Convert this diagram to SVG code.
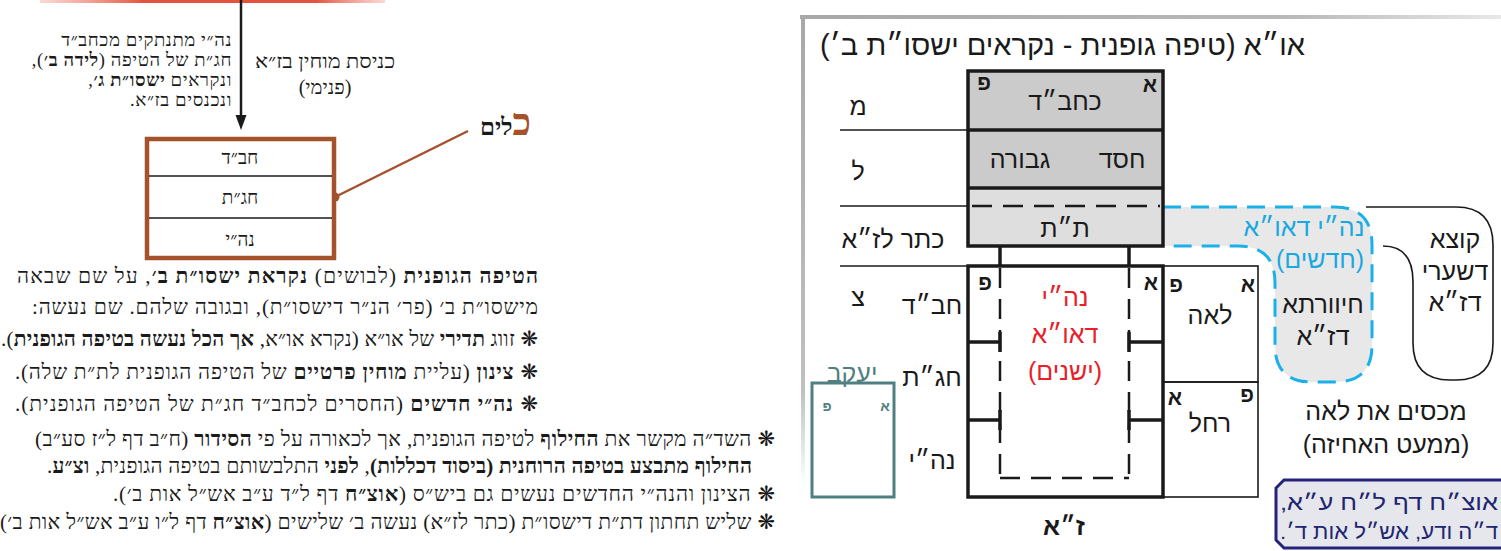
<svg xmlns="http://www.w3.org/2000/svg" width="1501" height="551" viewBox="0 0 1501 551">
<defs>
<style>
text{direction:rtl;fill:#1a1a1a;}
.ser{font-family:"Liberation Serif","DejaVu Serif",serif;}
.san{font-family:"Liberation Sans","DejaVu Sans",sans-serif;}
.b{font-weight:bold;}
.st{font-family:"DejaVu Sans",sans-serif;font-weight:normal;}
.brown{stroke:#a5512b;}
.thin{stroke:#1a1a1a;stroke-width:1.6;fill:none;}
.thick{stroke:#1a1a1a;stroke-width:3.5;fill:none;}
.dash{stroke:#1a1a1a;stroke-width:2.5;stroke-dasharray:20 11;fill:none;}
.mk{font-family:"Liberation Sans","DejaVu Sans",sans-serif;font-weight:bold;font-size:21px;}
.lbl{font-family:"Liberation Sans","DejaVu Sans",sans-serif;font-size:25px;text-anchor:middle;}
.red{fill:#e8202a;}
.cyan{fill:#1aa8e0;}
.teal{fill:#4f7f80;}
.navy{fill:#1e2570;}
.tl{font-family:"Liberation Serif","DejaVu Serif",serif;font-size:18.5px;letter-spacing:0.6px;}
</style>
<linearGradient id="fr" x1="0" y1="0" x2="1" y2="0">
<stop offset="0" stop-color="#a8a8a8"/><stop offset="0.7" stop-color="#b8b8b8"/><stop offset="1" stop-color="#e8e8e8"/>
</linearGradient>
<linearGradient id="frv" x1="0" y1="0" x2="0" y2="1">
<stop offset="0" stop-color="#a8a8a8"/><stop offset="0.8" stop-color="#c0c0c0"/><stop offset="1" stop-color="#ffffff"/>
</linearGradient>
<linearGradient id="redl" x1="0" y1="0" x2="1" y2="0">
<stop offset="0" stop-color="#f08070" stop-opacity="0.3"/><stop offset="0.3" stop-color="#e5533f"/><stop offset="0.8" stop-color="#e5533f"/><stop offset="1" stop-color="#f08070" stop-opacity="0.3"/>
</linearGradient>
</defs>

<!-- LEFT PART -->
<rect x="40" y="0" width="345" height="3" fill="url(#redl)"/>

<g id="connectors">
<line x1="241" y1="0" x2="241" y2="118" stroke="#1a1a1a" stroke-width="2.5"/>
<polygon points="235.5,115 246.5,115 241,130" fill="#1a1a1a"/>
<line x1="335" y1="197" x2="468" y2="131" class="brown" stroke-width="2.5"/>
<circle cx="335" cy="197" r="4.5" fill="#a5512b"/>
</g>

<g id="top-left-text">
<text class="tl" x="232" y="46" text-anchor="start">נה״י מתנתקים מכחב״ד</text>
<text class="tl" x="232" y="66" text-anchor="start">חג״ת של הטיפה (<tspan class="b">לידה ב׳</tspan>),</text>
<text class="tl" x="232" y="86" text-anchor="start">ונקראים <tspan class="b">ישסו״ת ג׳</tspan>,</text>
<text class="tl" x="232" y="106" text-anchor="start">ונכנסים בז״א.</text>
</g>

<g id="entry-label" class="ser" font-size="20">
<text x="325" y="68" text-anchor="middle" textLength="140" lengthAdjust="spacingAndGlyphs">כניסת מוחין בז״א</text>
<text x="325" y="94" text-anchor="middle">(פנימי)</text>
</g>

<g id="kelim-box">
<rect x="147" y="139" width="187" height="119" fill="#fff" stroke="#a5512b" stroke-width="4.5"/>
<line x1="149" y1="176" x2="332" y2="176" stroke="#1a1a1a" stroke-width="1.5"/>
<line x1="149" y1="218" x2="332" y2="218" stroke="#1a1a1a" stroke-width="1.5"/>
<text class="ser" font-size="19" x="240" y="164" text-anchor="middle">חב״ד</text>
<text class="ser" font-size="19" x="240" y="204" text-anchor="middle">חג״ת</text>
<text class="ser" font-size="19" x="240" y="246" text-anchor="middle">נה״י</text>
</g>

<g id="kelim-label">
<text class="ser b" x="531" y="135" text-anchor="start"><tspan font-size="38" fill="#a5512b">כ</tspan><tspan font-size="24">לים</tspan></text>
</g>

<g id="paragraph-1" class="ser" font-size="21">
<text x="538" y="283" text-anchor="start" textLength="521" lengthAdjust="spacing"><tspan class="b">הטיפה הגופנית</tspan> (לבושים) <tspan class="b">נקראת ישסו״ת ב׳</tspan>, על שם שבאה</text>
<text x="538" y="314" text-anchor="start" textLength="506" lengthAdjust="spacing">מישסו״ת ב׳ (פר׳ הנ״ר דישסו״ת), ובגובה שלהם. שם נעשה:</text>
<text x="538" y="346" text-anchor="start" textLength="537" lengthAdjust="spacing"><tspan class="st">❋</tspan> זווג <tspan class="b">תדירי</tspan> של או״א (נקרא או״א, <tspan class="b">אך הכל נעשה בטיפה הגופנית</tspan>).</text>
<text x="538" y="379" text-anchor="start" textLength="523" lengthAdjust="spacing"><tspan class="st">❋</tspan> <tspan class="b">צינון</tspan> (עליית <tspan class="b">מוחין פרטיים</tspan> של הטיפה הגופנית לת״ת שלה).</text>
<text x="538" y="411" text-anchor="start" textLength="523" lengthAdjust="spacing"><tspan class="st">❋</tspan> <tspan class="b">נה״י חדשים</tspan> (החסרים לכחב״ד חג״ת של הטיפה הגופנית).</text>
</g>

<g id="paragraph-2" class="ser" font-size="21">
<text x="775" y="446" text-anchor="start" textLength="740" lengthAdjust="spacing"><tspan class="st">❋</tspan> השד״ה מקשר את <tspan class="b">החילוף</tspan> לטיפה הגופנית, אך לכאורה על פי <tspan class="b">הסידור</tspan> (ח״ב דף ל״ז סע״ב)</text>
<text x="752" y="473" text-anchor="start" textLength="705" lengthAdjust="spacing"><tspan class="b">החילוף מתבצע בטיפה הרוחנית (ביסוד דכללות)</tspan>, <tspan class="b">לפני</tspan> התלבשותם בטיפה הגופנית, <tspan class="b">וצ״ע</tspan>.</text>
<text x="775" y="501" text-anchor="start" textLength="662" lengthAdjust="spacing"><tspan class="st">❋</tspan> הצינון והנה״י החדשים נעשים גם ביש״ס (<tspan class="b">אוצ״ח</tspan> דף ל״ד ע״ב אש״ל אות ב׳).</text>
<text x="775" y="529" text-anchor="start" textLength="775" lengthAdjust="spacing"><tspan class="st">❋</tspan> שליש תחתון דת״ת דישסו״ת (כתר לז״א) נעשה ב׳ שלישים (<tspan class="b">אוצ״ח</tspan> דף ל״ו ע״ב אש״ל אות ב׳)</text>
</g>

<!-- RIGHT PART -->
<g id="frame">
<rect x="800" y="15" width="701" height="4" fill="url(#fr)"/>
<rect x="801" y="15" width="4" height="470" fill="url(#frv)"/>
</g>

<g id="title">
<text class="san" font-size="29" x="1305" y="55" text-anchor="start" textLength="485" lengthAdjust="spacing">או״א (טיפה גופנית - נקראים ישסו״ת ב׳)</text>
</g>

<g id="level-lines">
<line x1="840" y1="130" x2="968" y2="130" class="thin"/>
<line x1="840" y1="206" x2="968" y2="206" class="thin"/>
<line x1="840" y1="266" x2="968" y2="266" class="thin"/>
<text class="lbl" x="858" y="115">מ</text>
<text class="lbl" x="858" y="180">ל</text>
<text class="lbl" x="893" y="248">כתר לז״א</text>
<text class="lbl" x="858" y="306">צ</text>
</g>

<g id="blue-shape">
<path d="M1163,207 H1335 Q1372,207 1372,245 V345 Q1372,382 1335,382 H1312 Q1275,382 1275,345 V283 Q1275,246 1238,246 H1163 Z" fill="#e8e8e8" stroke="none"/>
<path d="M1163,207 H1335 Q1372,207 1372,245 V345 Q1372,382 1335,382 H1312 Q1275,382 1275,345 V283 Q1275,246 1238,246 H1163" fill="none" stroke="#1ab0e8" stroke-width="3" stroke-dasharray="18 10"/>
<text class="lbl cyan" font-size="24" x="1304" y="236">נה״י דאו״א</text>
<text class="lbl cyan" font-size="24" x="1320" y="268">(חדשים)</text>
<text class="lbl" font-size="24" x="1323" y="313">חיוורתא</text>
<text class="lbl" font-size="24" x="1323" y="345">דז״א</text>
</g>

<g id="aa-box">
<rect x="968" y="71" width="195" height="59" fill="#cbcbcb"/>
<rect x="968" y="130" width="195" height="58" fill="#cbcbcb"/>
<rect x="968" y="188" width="195" height="58" fill="#dedede"/>
<rect x="968" y="71" width="195" height="175" class="thick"/>
<line x1="968" y1="130" x2="1163" y2="130" class="thick"/>
<line x1="968" y1="188" x2="1163" y2="188" class="thick" stroke-width="3"/>
<line x1="972" y1="206" x2="1160" y2="206" class="dash" stroke-dasharray="19 10"/>
<text class="mk" x="984" y="90" text-anchor="middle">פ</text>
<text class="mk" x="1150" y="92" text-anchor="middle">א</text>
<text class="lbl" x="1065" y="110">כחב״ד</text>
<text class="lbl" x="1122" y="168">חסד</text>
<text class="lbl" x="1020" y="168">גבורה</text>
<text class="lbl" font-size="27" x="1065" y="237">ת״ת</text>
</g>

<g id="stubs">
<line x1="1000" y1="246" x2="1000" y2="266" class="thick" stroke-width="3"/>
<line x1="1129" y1="246" x2="1129" y2="266" class="thick" stroke-width="3"/>
</g>

<g id="za-box">
<rect x="968" y="266" width="195" height="231" fill="#fff" class="thick"/>
<line x1="1000" y1="268" x2="1000" y2="478" class="dash"/>
<line x1="1129" y1="268" x2="1129" y2="478" class="dash"/>
<line x1="1000" y1="478" x2="1129" y2="478" class="dash" stroke-dasharray="20 13"/>
<line x1="968" y1="342" x2="1000" y2="342" class="thick" stroke-width="3"/>
<line x1="1129" y1="342" x2="1163" y2="342" class="thick" stroke-width="3"/>
<line x1="968" y1="420" x2="1000" y2="420" class="thick" stroke-width="3"/>
<line x1="1129" y1="420" x2="1163" y2="420" class="thick" stroke-width="3"/>
<line x1="1000" y1="332" x2="1000" y2="352" class="thick" stroke-width="2.5"/>
<line x1="1129" y1="332" x2="1129" y2="352" class="thick" stroke-width="2.5"/>
<line x1="1000" y1="410" x2="1000" y2="430" class="thick" stroke-width="2.5"/>
<line x1="1129" y1="410" x2="1129" y2="430" class="thick" stroke-width="2.5"/>
<text class="mk" x="985" y="290" text-anchor="middle">פ</text>
<text class="mk" x="1151" y="290" text-anchor="middle">א</text>
<text class="lbl red" font-size="26" x="1065" y="306">נה״י</text>
<text class="lbl red" font-size="26" x="1065" y="343">דאו״א</text>
<text class="lbl red" font-size="26" x="1065" y="380">(ישנים)</text>
<text class="lbl" x="932" y="314">חב״ד</text>
<text class="lbl" x="932" y="386">חג״ת</text>
<text class="lbl" x="932" y="469">נה״י</text>
<text class="lbl b" font-size="29" x="1064" y="535">ז״א</text>
</g>

<g id="leah-box">
<rect x="1163" y="266" width="95" height="116" class="thin" fill="#fff"/>
<text class="mk" x="1176" y="292" text-anchor="middle">פ</text>
<text class="mk" x="1248" y="292" text-anchor="middle">א</text>
<text class="lbl" font-size="27" x="1210" y="324">לאה</text>
</g>

<g id="rachel-box">
<rect x="1163" y="382" width="95" height="115" class="thin" fill="#fff"/>
<text class="mk" x="1175" y="405" text-anchor="middle">א</text>
<text class="mk" x="1247" y="402" text-anchor="middle">פ</text>
<text class="lbl" font-size="27" x="1210" y="432">רחל</text>
</g>

<g id="kotza-shape">
<path d="M1366,207 H1456 Q1493,207 1493,245 V343 Q1493,380 1456,380 H1450 Q1413,380 1413,343 V282 Q1413,246 1383,246" class="thin" stroke-width="2"/>
<text class="lbl" font-size="24" x="1455" y="248">קוצא</text>
<text class="lbl" font-size="24" x="1455" y="280">דשערי</text>
<text class="lbl" font-size="24" x="1455" y="311">דז״א</text>
</g>

<g id="leah-note">
<text class="lbl" font-size="25" x="1386" y="420">מכסים את לאה</text>
<text class="lbl" font-size="25" x="1386" y="453">(ממעט האחיזה)</text>
</g>

<g id="yaakov-box">
<rect x="812" y="383" width="82" height="114" fill="#fff" stroke="#4f7f80" stroke-width="3"/>
<text class="san b teal" font-size="14" x="885" y="411" text-anchor="middle">א</text>
<text class="san b teal" font-size="14" x="827" y="411" text-anchor="middle">פ</text>
<text class="lbl teal" font-size="26" x="852" y="382">יעקב</text>
</g>

<g id="source-box">
<path d="M1284,480 H1510 V548 H1284 L1276,540 V488 Z" fill="#e6e7ec" stroke="#24237a" stroke-width="3"/>
<text class="san navy" font-size="21" x="1498" y="510" text-anchor="start" textLength="218" lengthAdjust="spacingAndGlyphs">אוצ״ח דף ל״ח ע״א,</text>
<text class="san navy" font-size="21" x="1498" y="539" text-anchor="start" textLength="218" lengthAdjust="spacingAndGlyphs">ד״ה ודע, אש״ל אות ד׳.</text>
</g>
</svg>
